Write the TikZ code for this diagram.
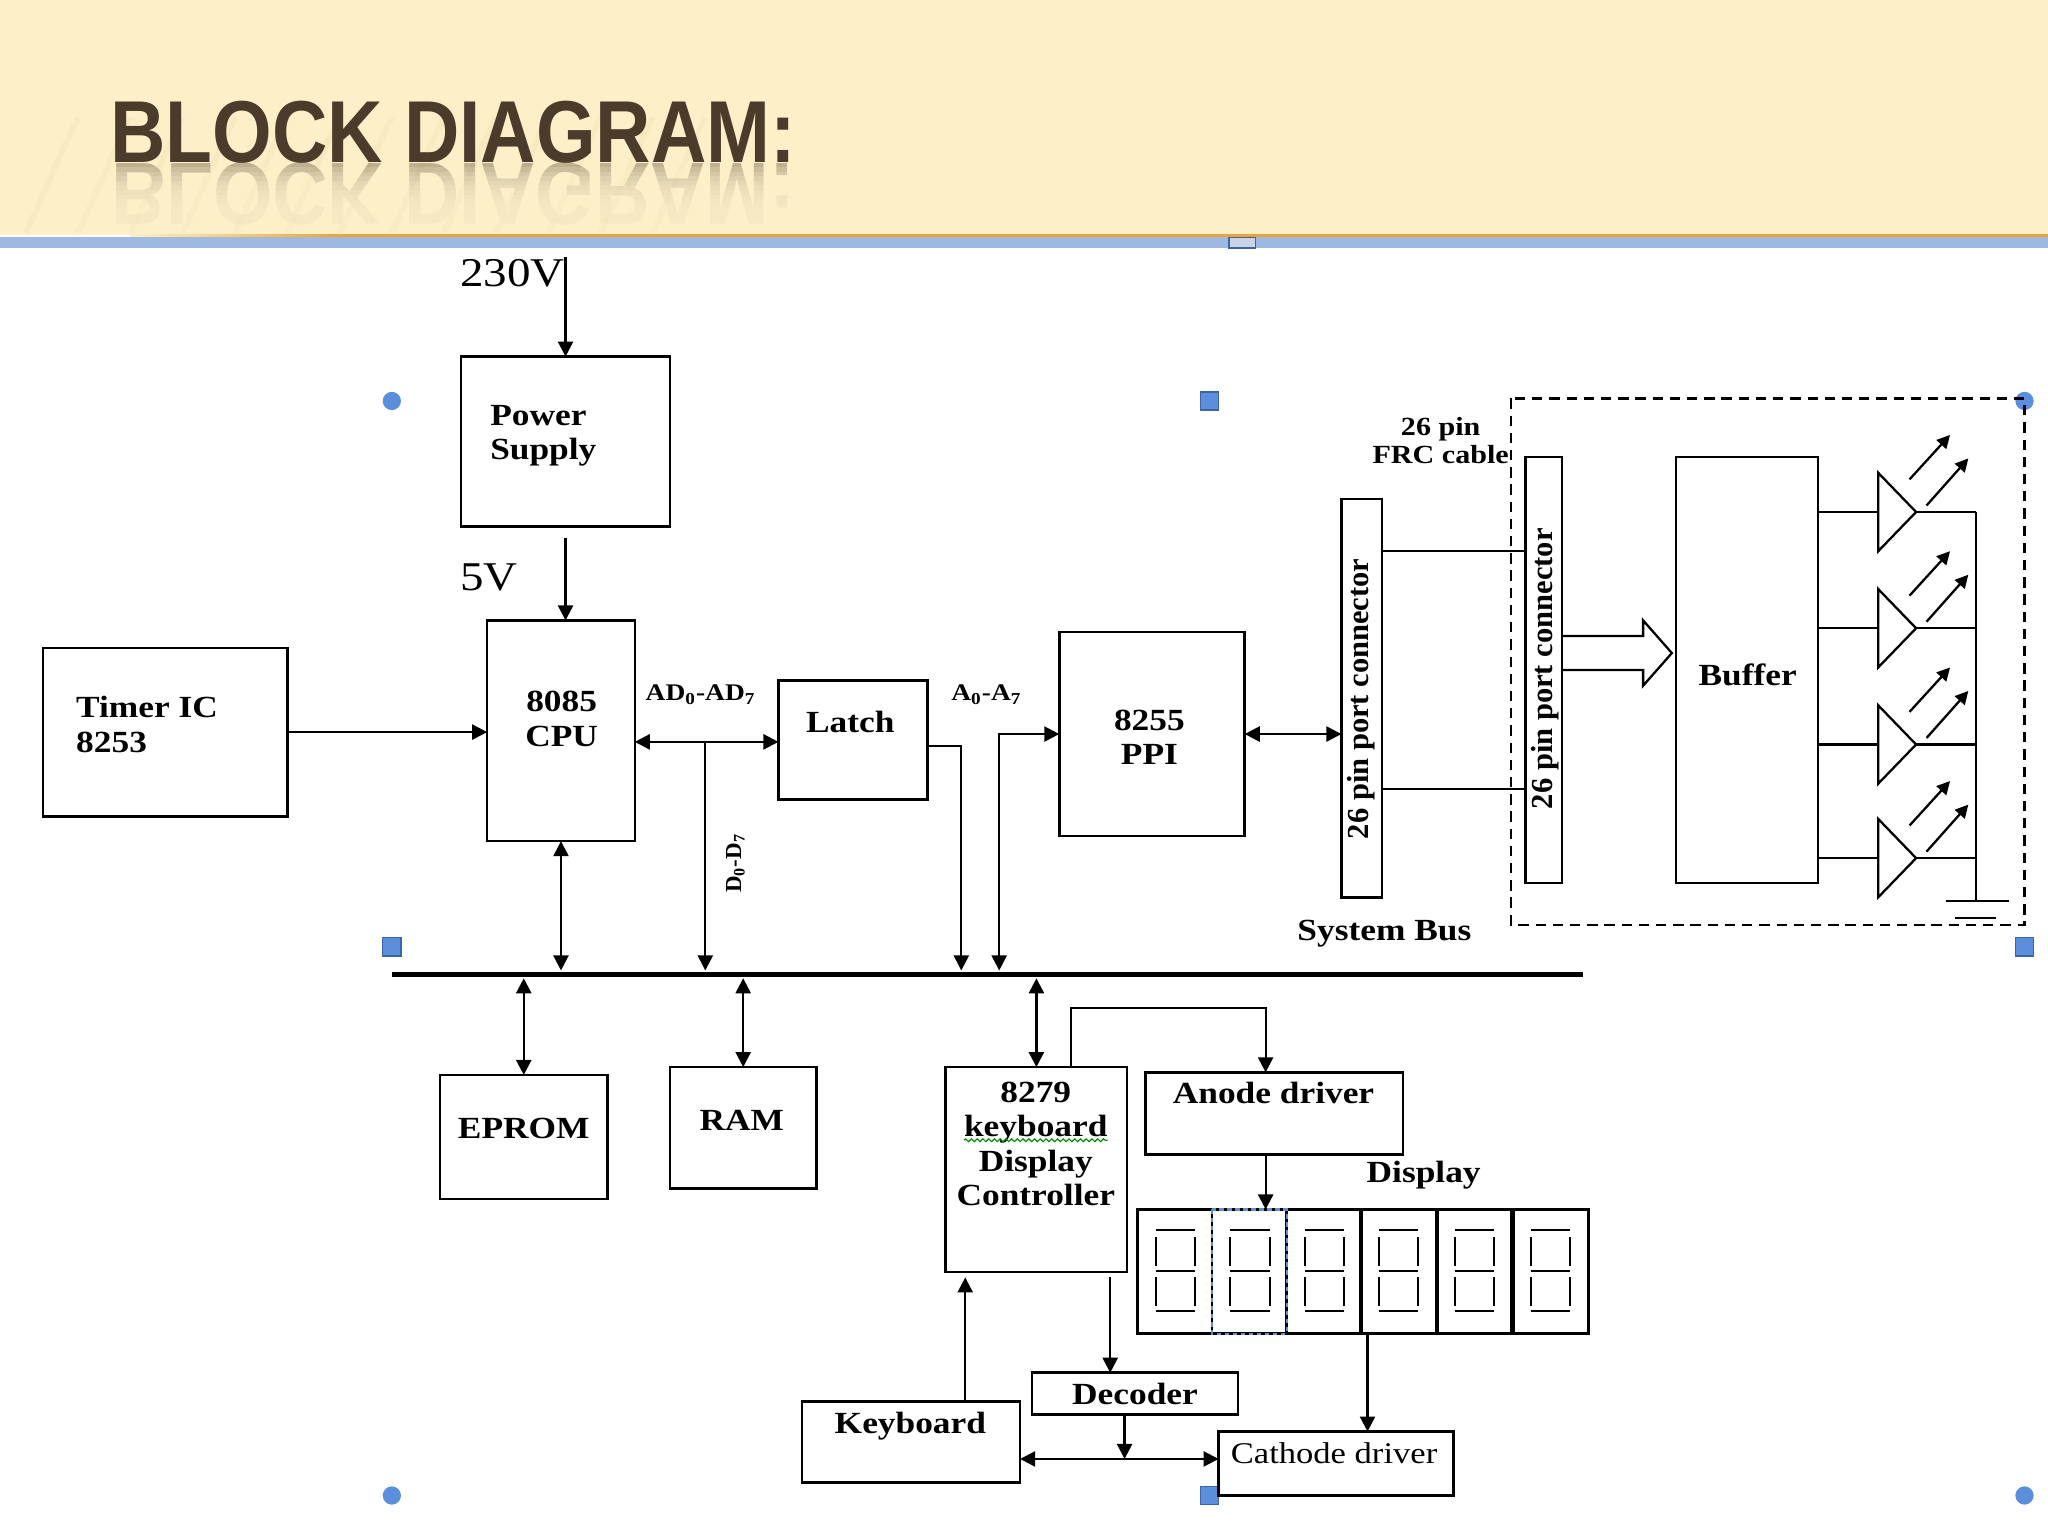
\documentclass[tikz,border=0pt]{standalone}
\usepackage{fontspec}
\setmainfont{Liberation Serif}[FakeStretch=1.15]
\newfontfamily\rotfont{Liberation Serif}
\newfontfamily\titlefont{Liberation Sans}
\usetikzlibrary{arrows.meta,decorations.pathmorphing}
\definecolor{hdr}{HTML}{FDF0C9}
\definecolor{orng}{HTML}{EBA33A}
\definecolor{bluebar}{HTML}{9DB9E1}
\definecolor{ttl}{HTML}{4B3B2A}
\definecolor{hnd}{HTML}{5B8EDB}
\definecolor{hndd}{HTML}{3E65A3}
\definecolor{hndl}{HTML}{CAD4E6}
\definecolor{streakc}{HTML}{EEDDB2}
\tikzset{
  box/.style={draw, line width=1.1pt, inner sep=0pt, outer sep=0pt},
  lbl/.style={inner sep=0pt, font=\bfseries\fontsize{13.4}{15}\selectfont},
  reg/.style={inner sep=0pt, font=\fontsize{13.1}{15}\selectfont},
  small/.style={inner sep=0pt, font=\bfseries\fontsize{10.4}{12}\selectfont},
  frc/.style={inner sep=0pt, font=\bfseries\fontsize{11.4}{12.5}\selectfont},
  volt/.style={inner sep=0pt, font=\fontsize{17.8}{20}\selectfont},
  rot/.style={inner sep=0pt, rotate=90, font=\rotfont\bfseries\fontsize{13.3}{15}\selectfont},
  conn/.style={line width=1pt},
  arr/.style={conn, -{Triangle[length=0.23cm,width=0.23cm]}},
  darr/.style={conn, {Triangle[length=0.23cm,width=0.23cm]}-{Triangle[length=0.23cm,width=0.23cm]}},
  ledarr/.style={conn, -{Triangle[length=0.2cm,width=0.2cm]}},
  handle/.style={fill=hnd, draw=hndd, line width=0.6pt},
  seg/.style={line width=0.85pt},
  streak/.style={draw=streakc, line width=2.5pt, opacity=0.35}
}
\newcommand\pbox[5]{\node[box,anchor=north west,minimum width={(#4-#2)*0.02cm},minimum height={(#5-#3)*0.02cm}] (#1) at (#2,#3) {};}
\begin{document}
\begin{tikzpicture}[x=0.02cm,y=-0.02cm]
\useasboundingbox (0,0) rectangle (1568,1176);
\fill[white] (0,0) rectangle (1568,1176);
% header
\fill[hdr] (0,0) rectangle (1568,180);
\foreach \a in {20,60,...,500} \draw[streak] (\a,178) .. controls (\a+15,145) and (\a+25,120) .. (\a+40,90);
\node[anchor=north west, inner sep=0pt, text=ttl, opacity=0.35] (refl) at (85,124) {\scalebox{1}[-1]{\resizebox{10.46cm}{0.94cm}{\titlefont\bfseries BLOCK DIAGRAM:}}};
\foreach \k in {0,...,9} \fill[hdr, opacity=0.22] (60,{128+3.5*\k}) rectangle (640,179);
\node[anchor=north west, inner sep=0pt, text=ttl] (title) at (84,77) {\resizebox{10.5cm}{0.94cm}{\titlefont\bfseries BLOCK DIAGRAM:}};
\shade[left color=hdr, right color=orng] (100,179.5) rectangle (260,181.5);
\fill[orng] (260,179.5) rectangle (1568,181.5);
\fill[bluebar] (0,181.5) rectangle (1568,190);
\filldraw[fill=hndl, draw=hndd, line width=0.6pt] (941,182) rectangle (961,190);
% selection handles
\foreach \p in {(300,307),(1550,307),(300,1145),(1550,1145)} \fill[hnd] \p circle[radius=0.14cm];
\foreach \xx/\yy in {926/307,300/725,1550/725,926/1145} \filldraw[handle] (\xx-7,\yy-7) rectangle (\xx+7,\yy+7);
% boxes
\pbox{ps}{353}{273}{513}{403}
\pbox{cpu}{373}{475}{486}{644}
\pbox{timer}{33}{496}{220}{625}
\pbox{latch}{596}{521}{710}{612}
\pbox{ppi}{811}{484}{953}{640}
\pbox{conL}{1027}{382}{1058}{687}
\pbox{conR}{1168}{350}{1196}{676}
\pbox{buf}{1283}{350}{1392}{676}
\pbox{eprom}{337}{823}{465}{918}
\pbox{ram}{513}{817}{625}{910}
\pbox{kdc}{724}{817}{863}{974}
\pbox{anode}{877}{821}{1074}{884}
\pbox{dec}{790}{1051}{948}{1083}
\pbox{kb}{614}{1073}{781}{1135}
\pbox{cath}{933}{1096}{1113}{1145}
\pbox{disp}{871}{926}{1216}{1021}
% display cells
\foreach \xx/\w in {928/1.1pt,985/1.1pt,1042/1.8pt,1100/1.8pt,1158/1.8pt} \draw[line width=\w] (\xx,926) -- (\xx,1021);
\foreach \s in {871,928,985,1042,1100,1158} {
  \draw[seg] (\s+14,942) -- (\s+44,942);
  \draw[seg] (\s+14,973) -- (\s+44,973);
  \draw[seg] (\s+14,1004) -- (\s+44,1004);
  \draw[seg] (\s+14,947) -- (\s+14,969);
  \draw[seg] (\s+44,947) -- (\s+44,969);
  \draw[seg] (\s+14,978) -- (\s+14,1000);
  \draw[seg] (\s+44,978) -- (\s+44,1000);
}
\draw[hnd, dash pattern=on 2pt off 1.5pt, line width=0.9pt] (928,926) rectangle (985,1021);
% dashed group
\draw[line width=1pt, dash pattern=on 4.5pt off 3pt] (1157,305) rectangle (1550,708);
% texts
\node[volt, anchor=north west] (t230) at (352,198) {230V};
\node[volt, anchor=north west] (t5) at (352,431) {5V};
\node[lbl, align=left, anchor=north west] (psT) at (375,310) {Power\\Supply};
\node[lbl, align=center, anchor=north] (cpuT) at (430,529) {8085\\CPU};
\node[lbl, align=left, anchor=north west] (timerT) at (58,533) {Timer IC\\8253};
\node[lbl, anchor=north] (latchT) at (651,544) {Latch};
\node[lbl, align=center, anchor=north] (ppiT) at (880,543) {8255\\PPI};
\node[lbl, anchor=north] (bufT) at (1338,508) {Buffer};
\node[lbl, anchor=north] (epromT) at (401,856) {EPROM};
\node[lbl, anchor=north] (ramT) at (568,850) {RAM};
\node[lbl, align=center, anchor=north] (kdcT) at (793,828) {8279\\keyboard\\Display\\Controller};
\draw[green!55!black, line width=0.5pt, decorate, decoration={snake, amplitude=0.6pt, segment length=2.5pt}] (738,873) -- (848,873);
\node[lbl, anchor=north] (anodeT) at (975,828) {Anode driver};
\node[lbl, anchor=north west] (dispT) at (1046,889) {Display};
\node[lbl, anchor=north] (decT) at (869,1059) {Decoder};
\node[lbl, anchor=north] (kbT) at (697,1081) {Keyboard};
\node[reg, anchor=north west] (cathT) at (942,1104) {Cathode driver};
\node[lbl, anchor=north west] (busT) at (993,704) {System Bus};
\node[frc, align=center, anchor=north] (frcT) at (1103,319) {26 pin\\FRC cable};
\node[small, anchor=north west] (adT) at (494,524) {AD\textsubscript{0}-AD\textsubscript{7}};
\node[small, anchor=north west] (aT) at (728,524) {A\textsubscript{0}-A\textsubscript{7}};
\node[inner sep=0pt, rotate=90, font=\rotfont\bfseries\fontsize{10}{12}\selectfont] (dT) at (563,661) {D\textsubscript{0}-D\textsubscript{7}};
\node[rot] (conLT) at (1042,535) {26 pin port connector};
\node[rot] (conRT) at (1183,512) {26 pin port connector};
% coordinates
\coordinate (v230) at (433,197);
\coordinate (v5) at (433,412);
\coordinate (rAD) at (0,568);
\coordinate (jD) at (540,568);
\coordinate (bt) at (0,743);
\coordinate (bb) at (0,749);
\coordinate (cL) at (736,571);
\coordinate (cP) at (765,562);
\coordinate (w1) at (0,422);
\coordinate (w2) at (0,604);
\coordinate (busL) at (300,746);
\coordinate (busR) at (1212,746);
\coordinate (kA) at (820,772);
\coordinate (xAn) at (969,772);
\coordinate (xDe) at (850,978);
\coordinate (xKb) at (739,978);
\coordinate (yH) at (0,1117);
\coordinate (xDc) at (861,1117);
\coordinate (xCa) at (1047,0);
% connectors
\draw[arr] (v230) -- (ps.north);
\draw[arr] (v5) -- (v5 |- cpu.north);
\draw[arr] (timer.east) -- (timer.east -| cpu.west);
\draw[darr] (cpu.east |- rAD) -- (latch.west |- rAD);
\draw[arr] (jD) -- (jD |- bt);
\draw[arr] (latch.east |- cL) -| (cL |- bt);
\draw[darr] (cP |- bt) |- (ppi.west |- cP);
\draw[darr] (ppi.east |- cP) -- (conL.west |- cP);
\draw[conn] (conL.east |- w1) -- (conR.west |- w1);
\draw[conn] (conL.east |- w2) -- (conR.west |- w2);
\draw[line width=1pt] (conR.east |- 0,487) -- (1258,487) -- (1258,475) -- (1280,500) -- (1258,525) -- (1258,513) -- (conR.east |- 0,513);
\draw[line width=2.3pt] (busL) -- (busR);
\draw[darr] (cpu.south) -- (cpu.south |- bt);
\draw[darr] (eprom.north |- bb) -- (eprom.north);
\draw[darr] (ram.north |- bb) -- (ram.north);
\draw[darr] (kdc.north |- bb) -- (kdc.north);
\draw[arr] (kdc.north -| kA) -- (kA) -- (xAn) -- (xAn |- anode.north);
\draw[arr] (anode.south -| xAn) -- (xAn |- disp.north);
\draw[arr] (xDe) -- (xDe |- dec.north);
\draw[arr] (kb.north -| xKb) -- (xKb);
\draw[darr] (kb.east |- yH) -- (cath.west |- yH);
\draw[arr] (dec.south -| xDc) -- (xDc);
\draw[arr] (disp.south -| xCa) -- (cath.north -| xCa);
% LEDs
\foreach \yc in {392,481,570,657} {
  \draw[conn] (buf.east |- 0,\yc) -- (1438,\yc);
  \draw[conn] (1438,\yc-30) -- (1467,\yc) -- (1438,\yc+30) -- cycle;
  \draw[conn] (1467,\yc) -- (1513,\yc);
  \draw[ledarr] (1462,\yc-25) -- (1493,\yc-59);
  \draw[ledarr] (1475,\yc-5) -- (1507,\yc-41);
}
\draw[conn] (1513,392) -- (1513,690);
\draw[conn] (1490,690) -- (1538,690);
\draw[conn] (1497,703) -- (1528,703);
\end{tikzpicture}
\end{document}
